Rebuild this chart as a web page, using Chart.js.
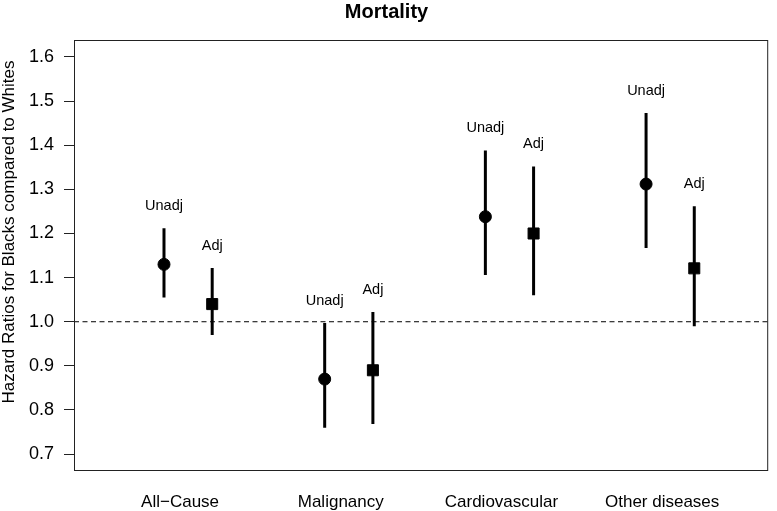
<!DOCTYPE html>
<html>
<head>
<meta charset="utf-8">
<title>Mortality</title>
<script src="https://cdn.jsdelivr.net/npm/chart.js@4"></script>
<style>
  html, body { margin: 0; padding: 0; background: #fff; }
  canvas { display: block; }
</style>
</head>
<body>
<canvas id="hrChart" width="777" height="511"></canvas>
<script>
// categories and hazard ratios
const categories = ["All\u2212Cause", "Malignancy", "Cardiovascular", "Other diseases"];
const unadjHR   = [1.13, 0.87, 1.238, 1.312];
const unadjLow  = [1.055, 0.76, 1.106, 1.167];
const unadjHigh = [1.212, 0.997, 1.388, 1.473];
const adjHR     = [1.04, 0.89, 1.20, 1.121];
const adjLow    = [0.97, 0.768, 1.06, 0.99];
const adjHigh   = [1.122, 1.022, 1.352, 1.262];
const yTicks    = [0.7, 0.8, 0.9, 1.0, 1.1, 1.2, 1.3, 1.4, 1.5, 1.6];
const refLine   = 1.0;

const FONT = "'Liberation Sans', Arial, Helvetica, sans-serif";
const X_MIN = 0.34, X_MAX = 4.66;
const UNADJ_OFFSET = -0.1, ADJ_OFFSET = 0.2;
const LABEL_GAP = 0.05;

// error bars: one small line dataset per interval
function ciDatasets(low, high, offset) {
  return low.map((lo, i) => ({
    type: "line",
    data: [{ x: i + 1 + offset, y: lo }, { x: i + 1 + offset, y: high[i] }],
    borderColor: "#000",
    borderWidth: 3,
    pointRadius: 0,
    order: 2
  }));
}

const datasets = [
  {
    type: "scatter",
    label: "Unadj",
    data: unadjHR.map((v, i) => ({ x: i + 1 + UNADJ_OFFSET, y: v })),
    pointStyle: "circle",
    pointRadius: 6,
    backgroundColor: "#000",
    borderColor: "#000",
    order: 0
  },
  {
    type: "scatter",
    label: "Adj",
    data: adjHR.map((v, i) => ({ x: i + 1 + ADJ_OFFSET, y: v })),
    pointStyle: "rect",
    pointRadius: 7.8,
    backgroundColor: "#000",
    borderColor: "#000",
    order: 0
  },
  ...ciDatasets(unadjLow, unadjHigh, UNADJ_OFFSET),
  ...ciDatasets(adjLow, adjHigh, ADJ_OFFSET),
  {
    type: "line",
    data: [{ x: X_MIN, y: refLine }, { x: X_MAX, y: refLine }],
    borderColor: "#000",
    borderWidth: 1,
    borderDash: [5, 3.5],
    pointRadius: 0,
    order: 3
  }
];

// Unadj / Adj text above each interval, plus the frame and y title
const annotate = {
  id: "annotate",
  afterDatasetsDraw(chart) {
    const { ctx, chartArea, scales } = chart;
    const x = scales.x, y = scales.y;
    ctx.save();
    ctx.fillStyle = "#000";
    ctx.font = "14.5px " + FONT;
    ctx.textAlign = "center";
    ctx.textBaseline = "middle";
    categories.forEach((c, i) => {
      ctx.fillText("Unadj", x.getPixelForValue(i + 1 + UNADJ_OFFSET), y.getPixelForValue(unadjHigh[i] + LABEL_GAP));
      ctx.fillText("Adj", x.getPixelForValue(i + 1 + ADJ_OFFSET), y.getPixelForValue(adjHigh[i] + LABEL_GAP));
    });
    ctx.strokeStyle = "#222";
    ctx.lineWidth = 1;
    ctx.strokeRect(chartArea.left + 0.5, chartArea.top + 0.5,
      chartArea.right - chartArea.left - 1, chartArea.bottom - chartArea.top);
    ctx.restore();
  },
  afterDraw(chart) {
    const { ctx } = chart;
    ctx.save();
    ctx.translate(9, 232);
    ctx.rotate(-Math.PI / 2);
    ctx.fillStyle = "#000";
    ctx.font = "17px " + FONT;
    ctx.textAlign = "center";
    ctx.textBaseline = "middle";
    ctx.fillText("Hazard Ratios for Blacks compared to Whites", 0, 0);
    ctx.restore();
  }
};

new Chart(document.getElementById("hrChart"), {
  data: { datasets },
  plugins: [annotate],
  options: {
    responsive: false,
    animation: false,
    devicePixelRatio: 1,
    layout: { padding: { left: 0, right: 4, top: 0, bottom: 0 } },
    plugins: {
      legend: { display: false },
      tooltip: { enabled: false },
      title: {
        display: true,
        text: "Mortality",
        color: "#000",
        font: { family: FONT, size: 20, weight: "bold" },
        padding: { top: 0, bottom: 16 }
      }
    },
    scales: {
      x: {
        type: "linear",
        min: X_MIN,
        max: X_MAX,
        afterBuildTicks: (scale) => {
          scale.ticks = categories.map((c, i) => ({ value: i + 1 }));
        },
        afterFit: (scale) => { scale.height = 41; },
        grid: { display: true, drawOnChartArea: false, drawTicks: false },
        border: { display: false },
        ticks: {
          autoSkip: false,
          maxRotation: 0,
          padding: 22,
          color: "#000",
          font: { family: FONT, size: 17 },
          callback: (v) => categories[Math.round(v) - 1]
        }
      },
      y: {
        type: "linear",
        min: 0.664,
        max: 1.6385,
        afterBuildTicks: (scale) => {
          scale.ticks = yTicks.map((v) => ({ value: v }));
        },
        afterFit: (scale) => { scale.width = 74; },
        grid: { display: true, drawOnChartArea: false, drawTicks: true, tickLength: 10, tickColor: "#222", tickWidth: 1 },
        border: { display: false },
        ticks: {
          padding: 10,
          color: "#000",
          font: { family: FONT, size: 18 },
          callback: (v) => Number(v).toFixed(1)
        }
      }
    }
  }
});
</script>
</body>
</html>
